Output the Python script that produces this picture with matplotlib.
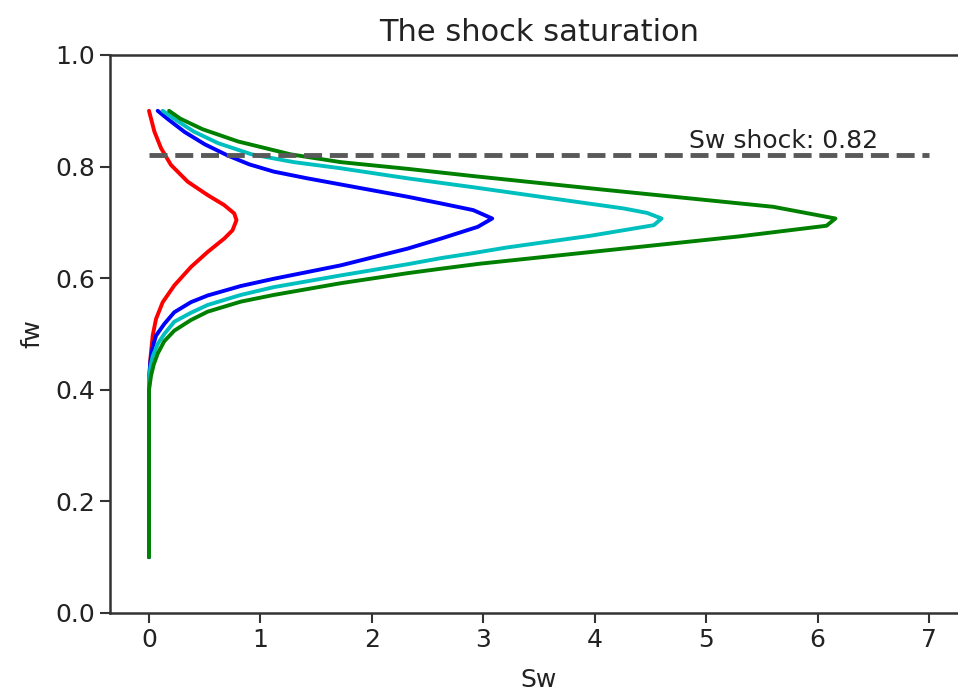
import matplotlib
matplotlib.use("Agg")
import matplotlib.pyplot as plt

# Data (Sw on x, fw on y)
red_fw = [0.10, 0.40, 0.455, 0.497, 0.527, 0.557, 0.587, 0.620, 0.647, 0.671, 0.686, 0.704,
          0.716, 0.731, 0.749, 0.773, 0.803, 0.833, 0.863, 0.900]
red_sw = [0.0, 0.0, 0.012, 0.033, 0.063, 0.123, 0.227, 0.376, 0.526, 0.675, 0.750, 0.785,
          0.765, 0.675, 0.526, 0.347, 0.197, 0.108, 0.048, 0.0]

blue_fw = [0.10, 0.42, 0.450, 0.477, 0.497, 0.518, 0.539, 0.557, 0.569, 0.586, 0.599, 0.611,
           0.623, 0.638, 0.653, 0.671, 0.692, 0.707, 0.722, 0.734, 0.746, 0.757, 0.768,
           0.779, 0.791, 0.804, 0.820, 0.840, 0.862, 0.885, 0.900]
blue_sw = [0.0, 0.0, 0.012, 0.033, 0.063, 0.137, 0.227, 0.376, 0.526, 0.824, 1.12, 1.42,
           1.72, 2.02, 2.32, 2.62, 2.95, 3.08, 2.91, 2.62, 2.32, 2.02, 1.72,
           1.42, 1.12, 0.90, 0.705, 0.50, 0.32, 0.17, 0.078]

cyan_fw = [0.10, 0.42, 0.440, 0.460, 0.482, 0.500, 0.522, 0.538, 0.552, 0.570, 0.584, 0.605,
           0.625, 0.636, 0.645, 0.655, 0.676, 0.695, 0.707, 0.717, 0.725, 0.746, 0.763,
           0.779, 0.797, 0.808, 0.822, 0.842, 0.863, 0.885, 0.900]
cyan_sw = [0.0, 0.0, 0.012, 0.033, 0.078, 0.137, 0.227, 0.376, 0.526, 0.824, 1.12, 1.72,
           2.32, 2.62, 2.91, 3.21, 3.96, 4.53, 4.60, 4.47, 4.26, 3.51, 2.91,
           2.32, 1.72, 1.30, 0.92, 0.62, 0.40, 0.23, 0.123]

green_fw = [0.10, 0.40, 0.425, 0.445, 0.465, 0.487, 0.506, 0.525, 0.540, 0.558, 0.570, 0.591,
            0.609, 0.617, 0.626, 0.650, 0.675, 0.694, 0.707, 0.728, 0.758, 0.783, 0.796,
            0.808, 0.822, 0.845, 0.867, 0.886, 0.900]
green_sw = [0.0, 0.0, 0.018, 0.042, 0.078, 0.137, 0.227, 0.376, 0.526, 0.824, 1.12, 1.72,
            2.32, 2.62, 2.97, 4.11, 5.30, 6.08, 6.16, 5.60, 4.11, 2.91, 2.32,
            1.72, 1.27, 0.80, 0.48, 0.28, 0.18]

shock_fw = 0.82
shock_label = "Sw shock: 0.82"
x_ticks = [0, 1, 2, 3, 4, 5, 6, 7]
y_ticks = [0.0, 0.2, 0.4, 0.6, 0.8, 1.0]

fig = plt.figure(figsize=(9.58, 6.91), dpi=100)
ax = fig.add_axes([110 / 958, 78 / 691, (968 - 110) / 958, (613 - 55) / 691])

lw = 2.8
kw = dict(lw=lw, solid_joinstyle="round", solid_capstyle="round")
ax.plot(red_sw, red_fw, color="r", **kw)
ax.plot(blue_sw, blue_fw, color="b", **kw)
ax.plot(cyan_sw, cyan_fw, color="c", **kw)
ax.plot(green_sw, green_fw, color="g", **kw)
ax.hlines(shock_fw, 0, 7, colors="0.35", linestyles="--", lw=3.5)
ax.text(4.85, shock_fw + 0.004, shock_label, fontsize=18, color="#222222", va="bottom", ha="left")

ax.set_xlim(-0.35, 7.35)
ax.set_ylim(0, 1)
ax.set_xticks(x_ticks)
ax.set_yticks(y_ticks)
ax.set_yticklabels([f"{v:.1f}" for v in y_ticks])
ax.tick_params(labelsize=18, length=7, width=1.5, colors="#333333", labelcolor="#222222")
for s in ax.spines.values():
    s.set_linewidth(1.8)
    s.set_color("#333333")

ax.set_title("The shock saturation", fontsize=22, color="#222222", pad=10)
ax.set_xlabel("Sw", fontsize=18, color="#222222", labelpad=12)
ax.set_ylabel("fw", fontsize=18, color="#222222", labelpad=8)

fig.savefig("out.png", dpi=100)
